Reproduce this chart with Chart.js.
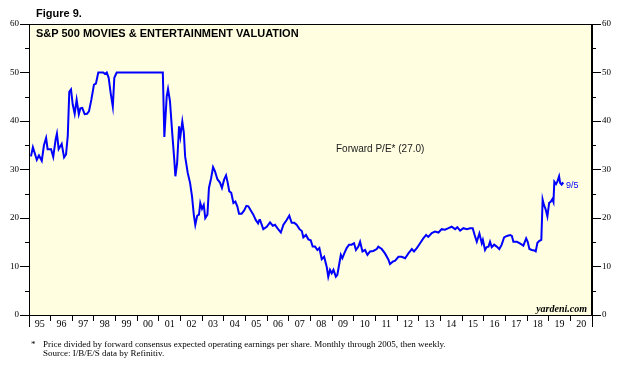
<!DOCTYPE html>
<html>
<head>
<meta charset="utf-8">
<script src="https://cdn.jsdelivr.net/npm/chart.js@4/dist/chart.umd.min.js"></script>
<style>
  html, body { margin: 0; padding: 0; background: #ffffff; }
  #wrap { position: relative; width: 632px; height: 375px; overflow: hidden; }
  #c { position: absolute; left: 0; top: 0; }
  .t { position: absolute; white-space: pre; line-height: 1; }
  .sans { font-family: "Liberation Sans", Arial, sans-serif; }
  .serif { font-family: "Liberation Serif", "Times New Roman", serif; }
</style>
</head>
<body>
<div id="wrap">
  <canvas id="c" width="632" height="375"></canvas>
  <div class="t sans" style="left:36px;top:7.5px;font-size:11px;font-weight:bold;color:#000;">Figure 9.</div>
  <div class="t sans" style="left:36px;top:27.5px;font-size:11px;font-weight:bold;color:#000;">S&amp;P 500 MOVIES &amp; ENTERTAINMENT VALUATION</div>
  <div class="t sans" style="left:336px;top:144px;font-size:10px;color:#1a1a1a;">Forward P/E* (27.0)</div>
  <div class="t sans" style="left:566px;top:180.5px;font-size:9px;color:#0000ff;">9/5</div>
  <div class="t serif" style="left:536px;top:303.5px;width:51px;text-align:right;font-size:10px;font-weight:bold;font-style:italic;color:#000;">yardeni.com</div>
  <div class="t serif" style="left:31px;top:339.5px;font-size:9px;color:#000;">*</div>
  <div class="t serif" style="left:43px;top:339.5px;font-size:9px;color:#000;">Price divided by forward consensus expected operating earnings per share. Monthly through 2005, then weekly.</div>
  <div class="t serif" style="left:43px;top:348.5px;font-size:9px;color:#000;">Source: I/B/E/S data by Refinitiv.</div>
</div>
<script>
// ---- Data (decimal years, forward P/E) ----
const dates = [
  1995.09,1995.18,1995.36,1995.46,1995.59,1995.69,1995.79,1995.86,1996.02,1996.12,
  1996.23,1996.29,1996.37,1996.51,1996.62,1996.71,1996.79,1996.86,1996.94,1997.02,
  1997.11,1997.20,1997.30,1997.37,1997.46,1997.57,1997.68,1997.77,1997.88,1998.00,
  1998.09,1998.20,1998.43,1998.51,1998.59,1998.68,1998.77,1998.87,1998.94,1999.05,
  2001.18,2001.25,2001.36,2001.42,2001.51,2001.62,2001.71,2001.76,2001.84,2001.93,
  2001.99,2002.08,2002.15,2002.21,2002.33,2002.44,2002.53,2002.61,2002.68,2002.77,
  2002.85,2002.91,2002.99,2003.07,2003.14,2003.24,2003.31,2003.41,2003.50,2003.59,
  2003.70,2003.82,2003.91,2004.01,2004.10,2004.18,2004.25,2004.34,2004.44,2004.53,
  2004.62,2004.70,2004.82,2004.93,2005.04,2005.13,2005.25,2005.36,2005.47,2005.58,
  2005.64,2005.67,2005.82,2005.98,2006.13,2006.26,2006.36,2006.47,2006.63,2006.75,
  2006.90,2007.02,2007.13,2007.25,2007.36,2007.49,2007.60,2007.67,2007.79,2007.90,
  2008.01,2008.10,2008.21,2008.32,2008.41,2008.52,2008.63,2008.75,2008.82,2008.90,
  2008.98,2009.06,2009.17,2009.24,2009.32,2009.40,2009.47,2009.55,2009.67,2009.78,
  2009.90,2010.01,2010.10,2010.21,2010.29,2010.40,2010.52,2010.63,2010.75,2010.90,
  2011.06,2011.13,2011.29,2011.44,2011.60,2011.67,2011.80,2011.91,2012.06,2012.21,
  2012.37,2012.52,2012.68,2012.78,2012.91,2013.06,2013.21,2013.34,2013.44,2013.60,
  2013.75,2013.91,2014.06,2014.21,2014.37,2014.52,2014.68,2014.78,2014.91,2015.06,
  2015.22,2015.37,2015.49,2015.60,2015.68,2015.80,2015.91,2015.96,2016.06,2016.14,
  2016.22,2016.29,2016.37,2016.48,2016.60,2016.72,2016.83,2016.94,2017.07,2017.22,
  2017.30,2017.37,2017.53,2017.65,2017.76,2017.83,2017.96,2018.03,2018.11,2018.22,
  2018.33,2018.40,2018.48,2018.57,2018.66,2018.72,2018.78,2018.86,2018.94,2019.02,
  2019.10,2019.17,2019.22,2019.26,2019.34,2019.40,2019.48,2019.53,2019.60,2019.64,
  2019.68
];
const pe = [
  32.7,34.6,32.0,32.9,31.8,35.0,36.5,34.2,34.2,32.6,
  36.2,37.4,34.2,35.3,32.5,33.1,36.9,46.0,46.5,43.4,
  41.5,44.4,41.4,42.6,42.7,41.4,41.5,42.0,44.4,47.5,
  47.7,50.0,50.0,49.7,50.0,48.9,45.8,43.0,48.9,50.0,
  50.0,36.7,45.1,46.6,44.1,37.2,32.0,28.6,31.3,38.9,
  36.8,39.9,37.6,32.7,29.3,27.2,24.4,20.7,18.6,20.5,
  20.7,23.1,21.9,22.7,20.0,20.7,26.2,28.2,30.5,29.6,
  28.0,27.3,26.2,27.9,28.8,27.2,25.5,25.2,23.1,23.4,
  22.4,20.9,20.9,21.5,22.5,22.4,21.5,20.7,19.6,18.9,
  19.6,19.6,17.7,18.2,19.1,18.4,18.6,17.9,17.0,18.6,
  19.6,20.5,19.0,19.0,18.6,17.7,17.3,16.0,16.5,15.6,
  15.4,14.1,14.1,13.4,13.8,11.5,12.0,9.9,7.9,9.3,
  8.6,9.3,7.9,8.3,10.3,12.4,11.7,12.6,13.8,14.5,
  14.5,14.8,13.4,14.1,15.1,13.1,13.4,12.4,13.1,13.2,
  13.6,14.1,13.6,12.7,11.4,10.5,11.0,11.2,12.0,12.0,
  11.7,12.7,13.6,13.1,13.8,14.8,15.8,16.5,16.1,16.9,
  17.2,17.0,17.7,17.6,17.9,18.2,17.7,18.1,17.4,17.9,
  17.7,17.9,17.9,16.2,15.1,16.8,14.8,15.5,13.4,14.0,
  14.1,15.1,14.0,14.5,14.1,13.6,14.5,16.0,16.3,16.5,
  16.3,15.1,15.1,14.8,14.5,14.3,15.8,15.1,13.6,13.4,
  13.3,13.1,14.9,15.3,15.5,23.8,22.7,21.8,20.3,23.1,
  23.4,23.9,23.3,27.5,27.0,27.5,28.6,27.2,26.9,27.2,
  27.0
];
const yearLabels = ['95','96','97','98','99','00','01','02','03','04','05','06','07','08','09','10','11','12','13','14','15','16','17','18','19','20'];
const xStart = 1995, xEnd = 2021;
const yTicks = [0,10,20,30,40,50,60];
const yMinorTicks = [5,15,25,35,45,55];

const points = dates.map((d, i) => ({ x: d, y: pe[i] }));

const frame = {
  id: 'frame',
  beforeDraw(chart) {
    const a = chart.chartArea, ctx = chart.ctx;
    ctx.save();
    ctx.fillStyle = '#FFFEE0';
    ctx.fillRect(a.left, a.top, a.right - a.left, a.bottom - a.top);
    ctx.restore();
  },
  afterDraw(chart) {
    const a = chart.chartArea, ctx = chart.ctx;
    const ys = chart.scales.y, xs = chart.scales.x;
    ctx.save();
    ctx.strokeStyle = '#000';
    ctx.lineWidth = 1;
    ctx.strokeRect(Math.round(a.left) + 0.5, Math.round(a.top) + 0.5,
                   Math.round(a.right - a.left) - 1, Math.round(a.bottom - a.top));
    ctx.beginPath();
    yMinorTicks.forEach(v => {
      const py = Math.round(ys.getPixelForValue(v)) + 0.5;
      ctx.moveTo(a.left - 4, py); ctx.lineTo(a.left, py);
      ctx.moveTo(a.right, py); ctx.lineTo(a.right + 4, py);
    });
    [xStart, xEnd].forEach(v => {
      const px = Math.round(xs.getPixelForValue(v)) + 0.5;
      ctx.moveTo(px, a.bottom); ctx.lineTo(px, a.bottom + 12);
    });
    ctx.stroke();
    ctx.restore();
  }
};

const serifTick = { family: '"Liberation Serif", "Times New Roman", serif', size: 9 };

new Chart(document.getElementById('c'), {
  type: 'line',
  data: {
    datasets: [{
      data: points,
      borderColor: '#0000ff',
      borderWidth: 2,
      pointRadius: 0,
      tension: 0,
      fill: false
    }]
  },
  options: {
    responsive: false,
    animation: false,
    events: [],
    parsing: false,
    layout: { padding: { top: 24, left: 0, right: 0, bottom: 40 } },
    plugins: { legend: { display: false }, tooltip: { enabled: false }, title: { display: false } },
    scales: {
      x: {
        type: 'linear',
        position: 'bottom',
        min: xStart, max: xEnd,
        afterBuildTicks(axis) {
          const t = [];
          for (let i = 0; i <= yearLabels.length; i++) {
            t.push({ value: xStart + i });
            if (i < yearLabels.length) t.push({ value: xStart + i + 0.5 });
          }
          axis.ticks = t;
        },
        afterFit(scale) { scale.height = 20; },
        ticks: {
          autoSkip: false, maxRotation: 0, minRotation: 0,
          padding: -3,
          color: '#000',
          font: { family: '"Liberation Serif", "Times New Roman", serif', size: 10 },
          callback(v) {
            if (Number.isInteger(v)) return '';
            return yearLabels[Math.floor(v) - xStart] || '';
          }
        },
        grid: {
          drawOnChartArea: false,
          drawTicks: true,
          tickLength: 6,
          tickColor: (ctx) => (ctx.tick && Number.isInteger(ctx.tick.value)) ? '#000' : 'rgba(0,0,0,0)'
        },
        border: { display: true, color: '#000', width: 1 }
      },
      y: {
        type: 'linear',
        position: 'left',
        min: 0, max: 60,
        afterBuildTicks(axis) { axis.ticks = yTicks.map(v => ({ value: v })); },
        afterFit(scale) { scale.width = 29; },
        ticks: { color: '#000', font: serifTick, padding: 1 },
        grid: { drawOnChartArea: false, tickLength: 9, tickColor: '#000' },
        border: { display: true, color: '#000', width: 1 }
      },
      y2: {
        type: 'linear',
        position: 'right',
        min: 0, max: 60,
        afterBuildTicks(axis) { axis.ticks = yTicks.map(v => ({ value: v })); },
        afterFit(scale) { scale.width = 40; },
        ticks: { color: '#000', font: serifTick, padding: 1 },
        grid: { drawOnChartArea: false, tickLength: 9, tickColor: '#000' },
        border: { display: true, color: '#000', width: 1 }
      }
    }
  },
  plugins: [frame]
});
</script>
</body>
</html>
